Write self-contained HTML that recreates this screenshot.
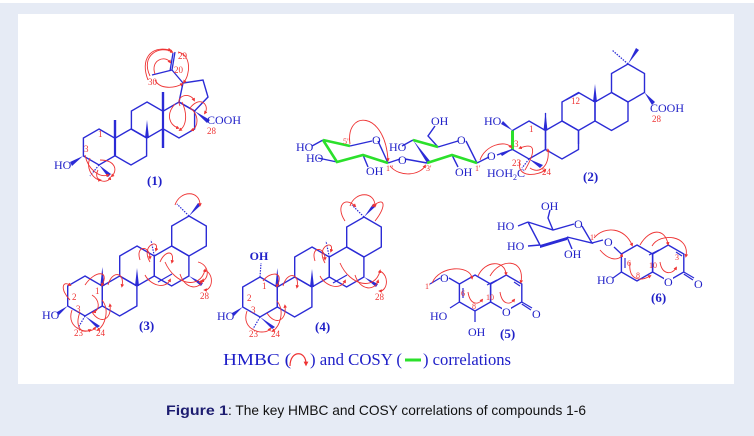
<!DOCTYPE html>
<html><head><meta charset="utf-8"><style>
html,body{margin:0;padding:0;background:#e6ebf5;}
svg{display:block;}
text{font-family:"Liberation Serif",serif;}
</style></head><body>
<svg width="754" height="436" viewBox="0 0 754 436" xmlns="http://www.w3.org/2000/svg">
<defs>
<path id="h18" d="M0,-18 L15.6,-9 L15.6,9 L0,18 L-15.6,9 L-15.6,-9 Z" fill="none" stroke="#2b2bd6" stroke-width="1.4"/>
<path id="h19" d="M0,-19 L16.5,-9.5 L16.5,9.5 L0,19 L-16.5,9.5 L-16.5,-9.5 Z" fill="none" stroke="#2b2bd6" stroke-width="1.4"/>
<path id="h20" d="M0,-20 L17.3,-10 L17.3,10 L0,20 L-17.3,10 L-17.3,-10 Z" fill="none" stroke="#2b2bd6" stroke-width="1.4"/>
<marker id="ar" markerWidth="4" markerHeight="4" refX="2" refY="2" orient="auto"><path d="M0,0 L4,2 L0,4 Z" fill="#e33"/></marker>
</defs>
<rect x="0" y="0" width="754" height="3" fill="#fff"/>
<rect x="18" y="14" width="716" height="370" fill="#fff"/>

<!-- ===== Compound 1 ===== -->
<g>
<use href="#h18" x="99" y="147"/><use href="#h18" x="131" y="147"/>
<use href="#h18" x="147" y="120"/><use href="#h18" x="179" y="120"/>
<path d="M179,102 L194.6,111 L208,97 L203,80 L183,83 Z" fill="none" stroke="#2b2bd6" stroke-width="1.4"/>
<g stroke="#2b2bd6" stroke-width="2.4" fill="none">
<path d="M115,138 V120"/><path d="M163,111 V92"/><path d="M163,129 V148"/>
</g>
<path d="M145,138 L149,138 L147,120 Z" fill="#2b2bd6"/>
<path d="M83,156 L70,162 L72,166 Z" fill="#2b2bd6"/>
<path d="M99,165 L108,177 L111,174 Z" fill="#2b2bd6"/>
<path d="M99,165 L90,176" stroke="#2b2bd6" stroke-width="1.2" stroke-dasharray="1.5,1.2"/>
<path d="M194.6,111 L210,120 L207,123 Z" fill="#2b2bd6"/>
<path d="M183,83 L172,70 M172,70 L175,52 M170,71 L173,53 M172,70 L152,75" stroke="#2b2bd6" stroke-width="1.3" fill="none"/>
<text x="207" y="124" font-size="12" fill="#2020c8">COOH</text>
<text x="207" y="134" font-size="9" fill="#e33">28</text>
<text x="178" y="59" font-size="9" fill="#e33">29</text>
<text x="174" y="73" font-size="9" fill="#e33">20</text>
<text x="148" y="85" font-size="9" fill="#e33">30</text>
<text x="98" y="137" font-size="9" fill="#e33">1</text>
<text x="84" y="152" font-size="9" fill="#e33">3</text>
<text x="54" y="169" font-size="12" fill="#2020c8">HO</text>
<text x="147" y="185" font-size="13" font-weight="bold" fill="#2020c8">(1)</text>
<g stroke="#e33" stroke-width="0.9" fill="none" marker-end="url(#ar)">
<path d="M150,76 C140,55 160,45 172,52"/><path d="M155,74 C150,60 165,55 170,62"/><path d="M178,52 C192,55 190,75 184,82"/>
<path d="M148,80 C140,60 150,45 170,50"/>
<path d="M155,80 C160,90 175,88 182,84"/><path d="M180,106 C175,95 190,92 194,100"/><path d="M190,108 C200,95 210,105 205,113"/>
<path d="M175,104 C165,115 170,125 178,128"/><path d="M190,108 C200,115 198,128 192,130"/><path d="M182,102 C188,115 186,126 180,130"/>
<path d="M85,155 C88,170 100,178 108,175"/><path d="M90,158 C85,170 95,180 100,180"/><path d="M100,160 C115,160 118,170 112,176"/><path d="M98,170 C92,182 108,184 110,178"/>
</g>
</g>

<!-- ===== Compound 2 ===== -->
<g>
<use href="#h19" x="529" y="140"/><use href="#h19" x="562" y="140"/>
<use href="#h19" x="578.5" y="111.5"/><use href="#h19" x="611.5" y="111.5"/>
<use href="#h19" x="628" y="83"/>
<path d="M566,100 L579,93" stroke="#2b2bd6" stroke-width="1.2"/>
<g stroke="#2b2bd6" stroke-width="1.3" fill="none">
<path d="M545.5,130.5 V113"/><path d="M578.5,130.5 V144"/>
<path d="M628,64 L612,50" stroke-dasharray="1.5,1.2"/>
</g>
<path d="M543.5,130.5 L547.5,130.5 L545.5,112 Z" fill="#2b2bd6"/>
<path d="M593,102 L597,102 L595,84 Z" fill="#2b2bd6"/>
<path d="M628,64 L636,48 L639,50 Z" fill="#2b2bd6"/>
<path d="M644.5,92.5 L655,102 L652,105 Z" fill="#2b2bd6"/>
<path d="M512.5,130.5 L501,124 L503,121 Z" fill="#2b2bd6"/>
<path d="M512.5,149.5 L502,156 L500,153 Z" fill="#2b2bd6"/>
<path d="M529,159 L540,168 L543,165 Z" fill="#2b2bd6"/>
<path d="M529,159 L522,168" stroke="#2b2bd6" stroke-width="1.2" stroke-dasharray="1.5,1.2"/>
<path d="M512.5,130.5 V149.5" stroke="#2be02b" stroke-width="3"/>
<text x="650" y="112" font-size="12" fill="#2020c8">COOH</text>
<text x="652" y="122" font-size="9" fill="#e33">28</text>
<text x="571" y="104" font-size="9" fill="#e33">12</text>
<text x="529" y="132" font-size="9" fill="#e33">1</text>
<text x="514" y="147" font-size="9" fill="#e33">3</text>
<text x="484" y="125" font-size="12" fill="#2020c8">HO</text>
<text x="487" y="177" font-size="12" fill="#2020c8">HOH<tspan font-size="8" dy="3">2</tspan><tspan dy="-3">C</tspan></text>
<text x="512" y="166" font-size="9" fill="#e33">23</text>
<text x="542" y="175" font-size="9" fill="#e33">24</text>
<text x="583" y="181" font-size="13" font-weight="bold" fill="#2020c8">(2)</text>
<g stroke="#2b2bd6" stroke-width="1.4" fill="none">
<path d="M350,146 L372,141"/><path d="M378,141 L388,163"/>
<path d="M438,147 L458,141"/><path d="M466,141 L477,163"/>
<path d="M438,147 L428,136 L435,126"/>
<path d="M323,140 L312,146"/><path d="M337,162 L318,158"/><path d="M363,155 L368,167"/>
<path d="M413,140 L402,146"/><path d="M452,155 L458,167"/>
<path d="M388,163 L400,159"/><path d="M477,163 L489,157"/><path d="M497,155 L512.5,149.5"/>
</g>
<path d="M413,140 L427,163 L430,161 Z" fill="#2b2bd6"/>
<path d="M323,140 L337,162 L363,155 L388,163 M323,140 L350,146 M413,140 L438,147 M427,163 L452,155 L477,163" stroke="#2be02b" stroke-width="2.6" fill="none"/>
<path d="M405,159 L427,163" stroke="#2b2bd6" stroke-width="1.4"/>
<text x="372" y="144" font-size="12" fill="#2020c8">O</text>
<text x="457" y="144" font-size="12" fill="#2020c8">O</text>
<text x="398" y="164" font-size="12" fill="#2020c8">O</text>
<text x="487" y="160" font-size="12" fill="#2020c8">O</text>
<text x="296" y="151" font-size="12" fill="#2020c8">HO</text>
<text x="306" y="162" font-size="12" fill="#2020c8">HO</text>
<text x="366" y="175" font-size="12" fill="#2020c8">OH</text>
<text x="389" y="151" font-size="12" fill="#2020c8">HO</text>
<text x="455" y="176" font-size="12" fill="#2020c8">OH</text>
<text x="431" y="125" font-size="12" fill="#2020c8">OH</text>
<text x="343" y="144" font-size="8" fill="#e33">5"</text>
<text x="386" y="171" font-size="8" fill="#e33">1"</text>
<text x="426" y="171" font-size="8" fill="#e33">3'</text>
<text x="475" y="171" font-size="8" fill="#e33">1'</text>
<g stroke="#e33" stroke-width="0.9" fill="none" marker-end="url(#ar)">
<path d="M350,144 C345,110 385,110 388,160"/><path d="M390,166 C400,178 420,175 425,166"/>
<path d="M480,160 C485,145 505,140 511,147"/><path d="M520,160 C515,180 540,175 545,170" />
<path d="M525,170 C532,158 540,140 520,148"/><path d="M530,168 C540,175 550,165 548,150"/>
</g>
</g>

<!-- ===== Compound 3 ===== -->
<g>
<use href="#h20" x="85" y="296"/><use href="#h20" x="119.6" y="296"/>
<use href="#h20" x="137" y="266"/><use href="#h20" x="171.6" y="266"/>
<use href="#h20" x="189" y="236"/>
<path d="M158,282 L172,274" stroke="#2b2bd6" stroke-width="1.2"/>
<path d="M100.3,286 L104.3,286 L102.3,267 Z" fill="#2b2bd6"/>
<path d="M135,286 L139,286 L137,268 Z" fill="#2b2bd6"/>
<path d="M154.3,256 L151,240" stroke="#2b2bd6" stroke-width="1.2" stroke-dasharray="1.5,1.2"/>
<path d="M189,216 L177,204" stroke="#2b2bd6" stroke-width="1.2" stroke-dasharray="1.5,1.2"/>
<path d="M189,216 L198,203 L201,205 Z" fill="#2b2bd6"/>
<path d="M189,276 L203,283 L201,286 Z" fill="#2b2bd6"/>
<path d="M67.7,306 L57,312 L59,315 Z" fill="#2b2bd6"/>
<path d="M85,316 L97,328 L100,326 Z" fill="#2b2bd6"/>
<path d="M85,316 L78,328" stroke="#2b2bd6" stroke-width="1.2" stroke-dasharray="1.5,1.2"/>
<g stroke="#e33" stroke-width="0.9" fill="none" marker-end="url(#ar)">
<path d="M70,300 C60,290 62,280 70,285"/><path d="M85,285 C95,270 110,270 102,285"/><path d="M72,310 C65,330 90,335 95,328"/>
<path d="M80,312 C75,325 80,335 90,330"/><path d="M102,300 C110,310 105,325 98,330"/><path d="M92,312 C100,325 112,320 110,305"/>
<path d="M150,262 C140,245 160,238 156,250"/><path d="M165,262 C175,285 200,290 205,270"/><path d="M180,274 C185,290 200,290 203,280"/>
<path d="M175,205 C180,190 200,190 200,205"/><path d="M205,270 C215,275 212,290 205,290"/><path d="M145,275 C150,285 165,290 170,280"/>
<path d="M140,260 C135,245 150,245 150,258"/><path d="M160,262 C165,250 175,250 172,262"/><path d="M198,262 C210,265 210,280 200,282"/>
<path d="M108,285 C112,270 125,272 122,286"/><path d="M92,295 C100,300 100,310 94,312"/>
</g>
<text x="42" y="319" font-size="12" fill="#2020c8">HO</text>
<text x="72" y="300" font-size="9" fill="#e33">2</text>
<text x="95" y="294" font-size="9" fill="#e33">1</text>
<text x="76" y="312" font-size="9" fill="#e33">3</text>
<text x="74" y="336" font-size="9" fill="#e33">23</text>
<text x="96" y="336" font-size="9" fill="#e33">24</text>
<text x="200" y="299" font-size="9" fill="#e33">28</text>
<text x="139" y="330" font-size="13" font-weight="bold" fill="#2020c8">(3)</text>
</g>

<!-- ===== Compound 4 ===== -->
<g transform="translate(175,1)">
<use href="#h20" x="85" y="296"/><use href="#h20" x="119.6" y="296"/>
<use href="#h20" x="137" y="266"/><use href="#h20" x="171.6" y="266"/>
<use href="#h20" x="189" y="236"/>
<path d="M158,282 L172,274" stroke="#2b2bd6" stroke-width="1.2"/>
<path d="M100.3,286 L104.3,286 L102.3,267 Z" fill="#2b2bd6"/>
<path d="M135,286 L139,286 L137,268 Z" fill="#2b2bd6"/>
<path d="M154.3,256 L151,240" stroke="#2b2bd6" stroke-width="1.2" stroke-dasharray="1.5,1.2"/>
<path d="M189,216 L177,204" stroke="#2b2bd6" stroke-width="1.2" stroke-dasharray="1.5,1.2"/>
<path d="M189,216 L198,203 L201,205 Z" fill="#2b2bd6"/>
<path d="M189,276 L203,283 L201,286 Z" fill="#2b2bd6"/>
<path d="M85,276 L86,262" stroke="#2b2bd6" stroke-width="1.2" stroke-dasharray="1.5,1.2"/>
<path d="M67.7,306 L57,312 L59,315 Z" fill="#2b2bd6"/>
<path d="M85,316 L97,328 L100,326 Z" fill="#2b2bd6"/>
<path d="M85,316 L78,328" stroke="#2b2bd6" stroke-width="1.2" stroke-dasharray="1.5,1.2"/>
<g stroke="#e33" stroke-width="0.9" fill="none" marker-end="url(#ar)">
<path d="M88,280 C95,270 110,270 102,285"/><path d="M72,310 C65,330 90,335 95,328"/>
<path d="M92,312 C100,325 112,320 110,305"/><path d="M102,300 C110,310 105,325 98,330"/>
<path d="M150,262 C140,245 160,238 156,250"/><path d="M165,262 C175,285 200,290 205,270"/><path d="M180,274 C185,290 200,290 203,280"/>
<path d="M175,205 C180,190 200,190 200,205"/><path d="M205,270 C215,275 212,290 205,290"/><path d="M170,220 C160,205 170,195 180,205"/><path d="M200,220 C212,205 210,195 198,205"/>
<path d="M140,260 C135,245 150,245 150,258"/><path d="M145,275 C150,285 165,290 170,280"/><path d="M108,285 C112,270 125,272 122,286"/>
</g>
<text x="84" y="259" font-size="12" font-weight="bold" fill="#2020c8" text-anchor="middle">OH</text>
<text x="42" y="319" font-size="12" fill="#2020c8">HO</text>
<text x="72" y="300" font-size="9" fill="#e33">2</text>
<text x="87" y="288" font-size="9" fill="#e33">1</text>
<text x="76" y="312" font-size="9" fill="#e33">3</text>
<text x="74" y="336" font-size="9" fill="#e33">23</text>
<text x="96" y="336" font-size="9" fill="#e33">24</text>
<text x="200" y="299" font-size="9" fill="#e33">28</text>
<text x="140" y="330" font-size="13" font-weight="bold" fill="#2020c8">(4)</text>
</g>

<!-- ===== Compound 5 ===== -->
<g>
<use href="#h18" x="475" y="293"/><use href="#h18" x="506.2" y="293"/>
<path d="M463,288 L463,298 M487,285 L497,280 M514,282 L520,286" stroke="#2b2bd6" stroke-width="1.2"/>
<path d="M459.4,284 L449,278 M440,278 L430,284 M459.4,302 L450,308 M475,311 L475,322 M521.8,302 L532,308 M521.8,304 L531,310" stroke="#2b2bd6" stroke-width="1.3" fill="none"/>
<rect x="502" y="306" width="9" height="9" fill="#fff"/>
<text x="502" y="316" font-size="12" fill="#2020c8">O</text>
<text x="532" y="318" font-size="12" fill="#2020c8">O</text>
<text x="440" y="282" font-size="12" fill="#2020c8">O</text>
<text x="425" y="289" font-size="8" fill="#e33">1'</text>
<text x="430" y="320" font-size="12" fill="#2020c8">HO</text>
<text x="468" y="336" font-size="12" fill="#2020c8">OH</text>
<text x="500" y="338" font-size="13" font-weight="bold" fill="#2020c8">(5)</text>
<text x="461" y="296" font-size="8" fill="#e33">6</text>
<text x="486" y="300" font-size="8" fill="#e33">10</text>
<text x="472" y="309" font-size="8" fill="#e33">8</text>
<g stroke="#e33" stroke-width="0.9" fill="none" marker-end="url(#ar)">
<path d="M432,283 C440,265 470,265 472,278"/><path d="M478,276 C485,260 505,260 506,274"/><path d="M490,276 C500,258 525,258 521,282"/>
<path d="M468,292 C470,305 478,305 482,300"/><path d="M500,292 C502,305 510,305 514,300"/>
</g>
</g>

<!-- ===== Compound 6 ===== -->
<g>
<use href="#h18" x="637" y="263"/><use href="#h18" x="668.2" y="263"/>
<path d="M625,258 L625,268 M649,255 L659,250 M676,252 L682,256" stroke="#2b2bd6" stroke-width="1.2"/>
<path d="M621.4,254 L614,247 M621.4,272 L613,278 M683.8,272 L694,278 M683.8,274 L693,280" stroke="#2b2bd6" stroke-width="1.3" fill="none"/>
<rect x="664" y="276" width="9" height="9" fill="#fff"/>
<text x="664" y="286" font-size="12" fill="#2020c8">O</text>
<text x="694" y="288" font-size="12" fill="#2020c8">O</text>
<text x="604" y="246" font-size="12" fill="#2020c8">O</text>
<text x="597" y="284" font-size="12" fill="#2020c8">HO</text>
<text x="651" y="302" font-size="13" font-weight="bold" fill="#2020c8">(6)</text>
<text x="627" y="266" font-size="8" fill="#e33">6</text>
<text x="649" y="268" font-size="8" fill="#e33">10</text>
<text x="675" y="260" font-size="8" fill="#e33">3</text>
<text x="636" y="278" font-size="8" fill="#e33">8</text>
<g stroke="#2b2bd6" stroke-width="1.4" fill="none">
<path d="M528,222 L553,230 L574,224 M582,226 L592,243 L567,237 M540,245 L528,222 M553,230 L548,218 L550,210 M592,243 L603,240 M528,222 L518,226 M540,245 L528,246 M567,237 L572,249"/>
</g>
<path d="M540,245 L567,237 L567,240 L540,248 Z" fill="#2b2bd6"/>
<text x="574" y="228" font-size="12" fill="#2020c8">O</text>
<text x="541" y="210" font-size="12" fill="#2020c8">OH</text>
<text x="497" y="230" font-size="12" fill="#2020c8">HO</text>
<text x="507" y="250" font-size="12" fill="#2020c8">HO</text>
<text x="564" y="258" font-size="12" fill="#2020c8">OH</text>
<text x="590" y="240" font-size="8" fill="#e33">1'</text>
<g stroke="#e33" stroke-width="0.9" fill="none" marker-end="url(#ar)">
<path d="M594,238 C605,225 625,228 632,245"/><path d="M640,245 C650,228 665,228 668,244"/><path d="M652,246 C660,232 690,235 686,256"/>
<path d="M600,250 C610,262 620,260 622,255"/><path d="M630,262 C628,280 640,282 650,276"/><path d="M660,262 C662,275 672,275 676,268"/>
</g>
</g>

<!-- legend -->
<text x="223" y="365" font-size="17" fill="#1e1ec8" textLength="68" lengthAdjust="spacingAndGlyphs">HMBC (</text>
<path d="M290,366 C290,350 306,350 306,364" stroke="#e33" stroke-width="1.2" fill="none" marker-end="url(#ar)"/>
<text x="310" y="365" font-size="17" fill="#1e1ec8" textLength="92" lengthAdjust="spacingAndGlyphs">) and COSY (</text>
<path d="M405,360 H421" stroke="#2be02b" stroke-width="3"/>
<text x="423" y="365" font-size="17" fill="#1e1ec8" textLength="88" lengthAdjust="spacingAndGlyphs">) correlations</text>

<!-- caption -->
<text x="166" y="415" font-size="14" fill="#1c1c70" font-weight="bold" textLength="62" lengthAdjust="spacingAndGlyphs" style="font-family:'Liberation Sans',sans-serif">Figure 1</text>
<text x="228" y="415" font-size="14" fill="#111" textLength="358" lengthAdjust="spacingAndGlyphs" style="font-family:'Liberation Sans',sans-serif">: The key HMBC and COSY correlations of compounds 1-6</text>
</svg>
</body></html>
